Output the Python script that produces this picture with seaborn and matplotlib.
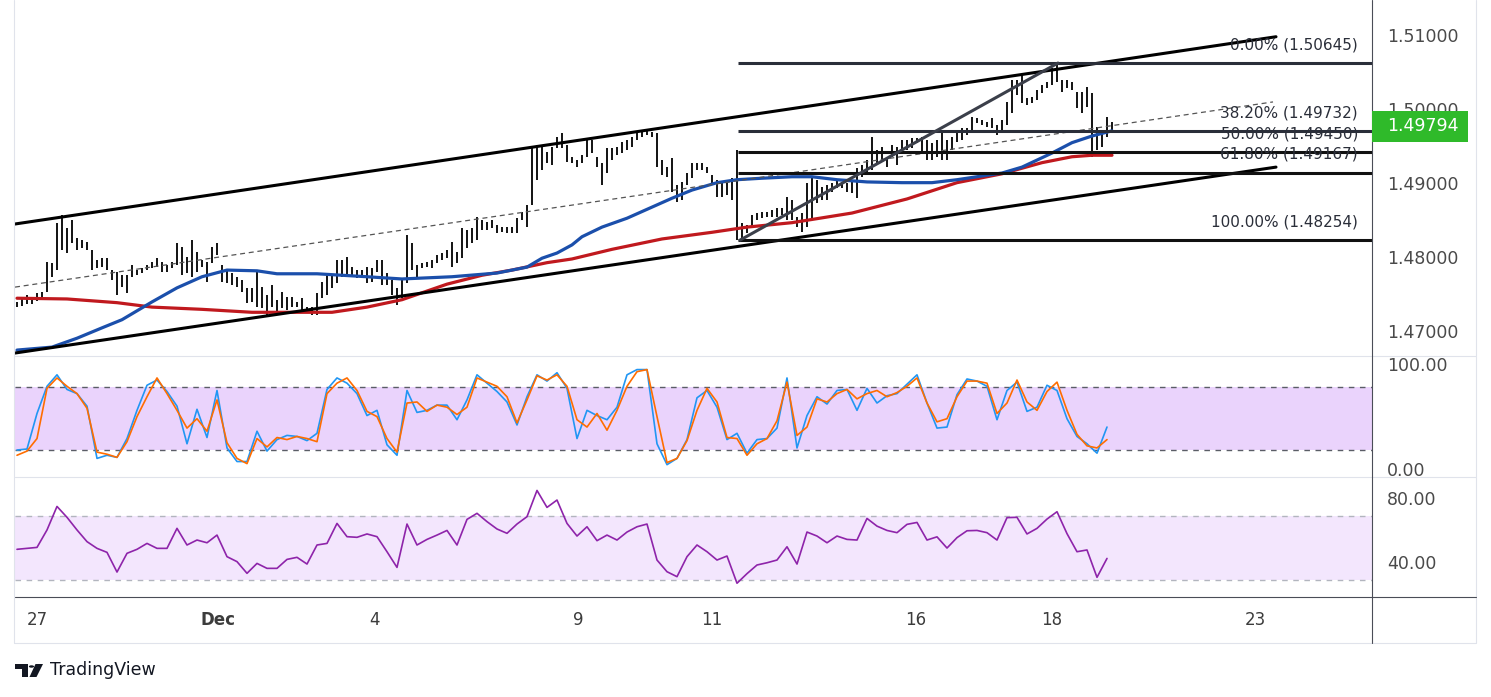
import numpy as np
import pandas as pd
import matplotlib
matplotlib.use("Agg")
import matplotlib.pyplot as plt
import seaborn as sns
from matplotlib.lines import Line2D
from matplotlib.patches import Rectangle, Polygon, Circle
from matplotlib.transforms import Bbox, TransformedBbox, blended_transform_factory

# price bars (high / low), one entry per bar step
bar_high = [
    1.4742, 1.4749, 1.4751, 1.4749, 1.4754, 1.4755, 1.4796, 1.4795, 1.4849, 1.4859,
    1.4842, 1.4853, 1.4828, 1.4826, 1.4823, 1.4812, 1.4799, 1.4801, 1.4801, 1.4785,
    1.4782, 1.4778, 1.4778, 1.4792, 1.4785, 1.4788, 1.4792, 1.4796, 1.4801, 1.4796,
    1.4792, 1.4796, 1.4822, 1.4816, 1.4803, 1.4826, 1.4809, 1.4799, 1.4796, 1.4816,
    1.4822, 1.4792, 1.4785, 1.4781, 1.4776, 1.4772, 1.4761, 1.4761, 1.4782, 1.4762,
    1.4751, 1.4765, 1.4745, 1.4755, 1.4749, 1.4749, 1.4742, 1.4747, 1.4735, 1.4735,
    1.4754, 1.4769, 1.4778, 1.4778, 1.4799, 1.4799, 1.4803, 1.4789, 1.4785, 1.4785,
    1.4789, 1.4788, 1.4799, 1.4799, 1.4781, 1.4772, 1.4761, 1.4772, 1.4832, 1.4822,
    1.4792, 1.4795, 1.4796, 1.4799, 1.4805, 1.4808, 1.4812, 1.4823, 1.4809, 1.4842,
    1.4839, 1.4842, 1.4857, 1.4853, 1.4850, 1.4853, 1.4846, 1.4843, 1.4843, 1.4843,
    1.4855, 1.4863, 1.4873, 1.4950, 1.4954, 1.4951, 1.4944, 1.4951, 1.4965, 1.4970,
    1.4954, 1.4938, 1.4934, 1.4940, 1.4961, 1.4961, 1.4938, 1.4930, 1.4950, 1.4950,
    1.4951, 1.4958, 1.4961, 1.4965, 1.4970, 1.4974, 1.4974, 1.4971, 1.4970, 1.4934,
    1.4924, 1.4936, 1.4900, 1.4904, 1.4916, 1.4930, 1.4930, 1.4930, 1.4924, 1.4913,
    1.4907, 1.4904, 1.4904, 1.4909, 1.4947, 1.4849, 1.4846, 1.4859, 1.4862, 1.4863,
    1.4863, 1.4866, 1.4869, 1.4869, 1.4884, 1.4880, 1.4857, 1.4862, 1.4903, 1.4911,
    1.4907, 1.4897, 1.4900, 1.4903, 1.4907, 1.4904, 1.4903, 1.4904, 1.4923, 1.4927,
    1.4934, 1.4965, 1.4947, 1.4951, 1.4938, 1.4954, 1.4951, 1.4961, 1.4961, 1.4963,
    1.4963, 1.4965, 1.4961, 1.4957, 1.4961, 1.4974, 1.4961, 1.4965, 1.4970, 1.4977,
    1.4977, 1.4992, 1.4990, 1.4988, 1.4985, 1.4990, 1.4981, 1.4988, 1.5012, 1.5042,
    1.5042, 1.5048, 1.5017, 1.5019, 1.5028, 1.5035, 1.5039, 1.5058, 1.50645, 1.5042,
    1.5042, 1.5039, 1.5025, 1.5025, 1.5032, 1.5024, 1.4978, 1.4970, 1.4992, 1.4985,
]
bar_low = [
    1.4735, 1.4736, 1.4739, 1.4739, 1.4743, 1.4745, 1.4755, 1.4776, 1.4785, 1.4812,
    1.4808, 1.4822, 1.4812, 1.4815, 1.4812, 1.4785, 1.4788, 1.4789, 1.4785, 1.4772,
    1.4751, 1.4762, 1.4754, 1.4776, 1.4778, 1.4781, 1.4785, 1.4788, 1.4789, 1.4782,
    1.4782, 1.4788, 1.4792, 1.4778, 1.4781, 1.4776, 1.4782, 1.4789, 1.4769, 1.4795,
    1.4805, 1.4769, 1.4768, 1.4765, 1.4762, 1.4755, 1.4741, 1.4742, 1.4735, 1.4734,
    1.4724, 1.4735, 1.4728, 1.4734, 1.4731, 1.4735, 1.4735, 1.4731, 1.4727, 1.4724,
    1.4724, 1.4747, 1.4751, 1.4761, 1.4768, 1.4776, 1.4776, 1.4776, 1.4774, 1.4776,
    1.4768, 1.4769, 1.4782, 1.4765, 1.4765, 1.4751, 1.4738, 1.4747, 1.4768, 1.4785,
    1.4776, 1.4788, 1.4789, 1.4788, 1.4795, 1.4799, 1.4801, 1.4789, 1.4795, 1.4801,
    1.4815, 1.4822, 1.4826, 1.4839, 1.4839, 1.4842, 1.4835, 1.4836, 1.4835, 1.4835,
    1.4835, 1.4853, 1.4843, 1.4873, 1.4907, 1.4920, 1.4930, 1.4927, 1.4950, 1.4950,
    1.4931, 1.4930, 1.4924, 1.4930, 1.4938, 1.4943, 1.4924, 1.4900, 1.4916, 1.4934,
    1.4940, 1.4943, 1.4947, 1.4951, 1.4961, 1.4965, 1.4967, 1.4965, 1.4924, 1.4913,
    1.4911, 1.4890, 1.4877, 1.4880, 1.4900, 1.4909, 1.4920, 1.4920, 1.4916, 1.4903,
    1.4884, 1.4884, 1.4886, 1.4880, 1.4825, 1.4826, 1.4835, 1.4842, 1.4853, 1.4855,
    1.4857, 1.4857, 1.4857, 1.4859, 1.4853, 1.4853, 1.4843, 1.4836, 1.4843, 1.4853,
    1.4876, 1.4880, 1.4880, 1.4890, 1.4896, 1.4896, 1.4890, 1.4889, 1.4882, 1.4911,
    1.4913, 1.4920, 1.4927, 1.4934, 1.4924, 1.4938, 1.4927, 1.4947, 1.4947, 1.4950,
    1.4957, 1.4943, 1.4934, 1.4934, 1.4938, 1.4934, 1.4934, 1.4947, 1.4958, 1.4961,
    1.4967, 1.4970, 1.4984, 1.4981, 1.4978, 1.4977, 1.4967, 1.4970, 1.4981, 1.4997,
    1.5021, 1.5011, 1.5008, 1.5011, 1.5015, 1.5024, 1.5031, 1.5035, 1.5039, 1.5025,
    1.5031, 1.5028, 1.5004, 1.4997, 1.5005, 1.4938, 1.4947, 1.4951, 1.4965, 1.4974,
]
last_price = 1.49794

# moving averages (bar index, value)
ma_blue_idx = [0, 7, 12, 17, 21, 27, 32, 37, 42, 48, 52, 60, 70, 77, 87, 96, 102, 105,
               108, 111, 113, 117, 122, 127, 131, 135, 140, 144, 149, 155, 159, 164,
               170, 177, 183, 188, 193, 197, 201, 207, 211, 215, 219]
ma_blue = [1.4677, 1.4681, 1.4693, 1.4707, 1.4718, 1.4742, 1.4761, 1.4776, 1.4785, 1.4784,
           1.4780, 1.4780, 1.4776, 1.4773, 1.4776, 1.4781, 1.4789, 1.4801, 1.4808, 1.4819,
           1.4830, 1.4843, 1.4855, 1.4870, 1.4882, 1.4893, 1.4903, 1.4907, 1.4909, 1.4911,
           1.4911, 1.4907, 1.4904, 1.4903, 1.4903, 1.4907, 1.4912, 1.4916, 1.4924, 1.4943,
           1.4957, 1.4966, 1.4973]
ma_red_idx = [0, 10, 20, 27, 37, 47, 57, 63, 70, 77, 86, 93, 99, 106, 111, 119, 129,
              139, 146, 155, 167, 178, 188, 197, 205, 211, 215, 219]
ma_red = [1.4747, 1.4746, 1.4741, 1.4735, 1.4732, 1.4728, 1.4728, 1.4728, 1.4735, 1.4745,
          1.4766, 1.4778, 1.4785, 1.4795, 1.4800, 1.4813, 1.4827, 1.4836, 1.4843, 1.4849,
          1.4862, 1.4881, 1.4903, 1.4915, 1.4930, 1.4938, 1.4940, 1.4940]

# oscillators, every second bar
stoch_k = [20, 21, 55, 81, 92, 78, 74, 62, 12, 15,
           13, 31, 58, 82, 87, 76, 62, 26, 59, 32,
           77, 22, 9, 9, 38, 19, 30, 34, 33, 29,
           36, 78, 89, 84, 74, 53, 58, 25, 15, 77,
           56, 58, 63, 63, 49, 68, 92, 84, 76, 66,
           44, 71, 92, 86, 94, 79, 31, 58, 53, 49,
           61, 92, 97, 97, 26, 6, 12, 30, 70, 77,
           61, 30, 36, 17, 30, 31, 41, 89, 22, 53,
           71, 64, 77, 78, 58, 79, 65, 72, 74, 83,
           92, 65, 41, 42, 73, 88, 86, 81, 49, 77,
           85, 57, 61, 82, 77, 50, 33, 26, 17, 42]
stoch_d = [15, 19, 31, 79, 89, 81, 74, 60, 18, 16,
           13, 28, 52, 71, 89, 74, 58, 41, 50, 38,
           68, 27, 12, 7, 31, 23, 32, 30, 33, 31,
           28, 74, 84, 89, 77, 57, 52, 31, 18, 65,
           66, 57, 63, 61, 54, 61, 89, 85, 81, 71,
           46, 68, 91, 87, 92, 81, 49, 42, 55, 39,
           58, 81, 95, 97, 52, 8, 12, 29, 58, 79,
           66, 32, 31, 15, 26, 31, 48, 85, 34, 42,
           69, 66, 74, 78, 69, 74, 77, 71, 75, 81,
           89, 65, 47, 50, 71, 86, 86, 84, 55, 65,
           87, 66, 58, 76, 85, 58, 35, 24, 22, 30]
rsi = [49.2, 49.8, 50.4, 61.3, 76.0, 69.2, 61.3, 54.0, 49.8, 47.3,
       35.0, 46.7, 49.2, 52.9, 49.8, 49.8, 62.3, 51.9, 55.0, 53.3,
       58.1, 44.6, 41.5, 34.2, 40.4, 37.3, 37.3, 42.9, 44.2, 40.0,
       51.9, 52.9, 65.4, 57.1, 56.7, 58.8, 57.1, 47.7, 37.9, 65.0,
       51.9, 55.4, 58.1, 61.0, 51.9, 67.9, 71.7, 66.5, 61.9, 59.2,
       65.0, 69.6, 86.0, 75.4, 80.0, 65.4, 57.5, 63.3, 54.6, 58.1,
       55.0, 60.0, 63.3, 65.0, 42.5, 35.2, 32.1, 44.6, 51.9, 47.7,
       42.5, 45.0, 28.0, 34.0, 39.4, 40.8, 42.5, 50.8, 40.0, 60.0,
       57.5, 53.3, 57.5, 55.4, 55.0, 68.5, 63.7, 61.0, 59.6, 64.8,
       66.0, 55.0, 57.0, 50.0, 56.5, 60.8, 61.0, 59.6, 55.0, 69.0,
       69.2, 58.8, 62.3, 68.1, 72.7, 59.0, 47.7, 48.8, 31.7, 43.5]

# drawings
fib_levels = [0.0, 38.2, 50.0, 61.8, 100.0]
fib_prices = [1.50645, 1.49732, 1.49450, 1.49167, 1.48254]
fib_start = 144.2
swing_low = (144.6, 1.48254)
swing_high = (208.2, 1.50645)
channel_upper = ([-0.4, 251.8], [1.48472, 1.51000])
channel_lower = ([-0.4, 251.8], [1.46730, 1.49240])
channel_mid = ([-0.4, 251.2], [1.47620, 1.50120])

day_ticks = [4, 40.2, 71.4, 112.2, 139, 179.8, 207, 247.6]
day_labels = ['27', 'Dec', '4', '9', '11', '16', '18', '23']
price_ticks = [1.47, 1.48, 1.49, 1.50, 1.51]
stoch_ticks = [0, 100]
rsi_ticks = [40, 80]

W, H = 1491, 697
L, R, RB = 15, 1372, 1476
XMAX = 271

sns.set_style('white')
plt.rcParams['font.family'] = ['DejaVu Sans']
fig = plt.figure(figsize=(W / 100, H / 100), dpi=100)
fig.patch.set_facecolor('white')


def panel(top, bottom):
    ax = fig.add_axes([L / W, 1 - bottom / H, (R - L) / W, (bottom - top) / H])
    ax.set_xlim(-0.4, XMAX)
    for s in ax.spines.values():
        s.set_visible(False)
    ax.set_xticks([])
    ax.set_yticks([])
    ax.set_facecolor('none')
    return ax


def fig_line(x0, y0, x1, y1, color, lw=0.8):
    fig.add_artist(Line2D([x0 / W, x1 / W], [1 - y0 / H, 1 - y1 / H], color=color,
                          lw=lw, transform=fig.transFigure))


def right_labels(ax, ticks, fmt, top, bottom):
    tr = blended_transform_factory(fig.transFigure, ax.transData)
    clip = TransformedBbox(Bbox.from_extents(R / W, 1 - bottom / H, RB / W, 1 - top / H),
                           fig.transFigure)
    for t in ticks:
        txt = fig.text(1387 / W, t, fmt.format(t), transform=tr, ha='left', va='center',
                       fontsize=12.5, color='#4a4a4a', zorder=3)
        txt.set_clip_box(clip)
        txt.set_clip_on(True)


ax_p = panel(0, 356)
ax_s = panel(356, 477)
ax_r = panel(477, 597)

# ---- price panel ----
bars = pd.DataFrame({'i': np.arange(len(bar_high)), 'high': bar_high, 'low': bar_low})
ax_p.vlines(bars['i'], bars['low'], bars['high'], color='black', lw=1.3, zorder=3)
sns.lineplot(x=ma_red_idx, y=ma_red, ax=ax_p, color='#c0191e', lw=2.3, zorder=4, legend=False)
sns.lineplot(x=ma_blue_idx, y=ma_blue, ax=ax_p, color='#1b4fab', lw=2.3, zorder=4, legend=False)

ax_p.plot(*channel_upper, color='black', lw=2.2, zorder=5)
ax_p.plot(*channel_lower, color='black', lw=2.2, zorder=5)
ax_p.plot(*channel_mid, color='#555555', lw=0.9, dashes=(4, 3), zorder=5)

fib_colors = ['#2a2e39', '#2a2e39', '#111111', '#111111', '#111111']
ax_p.hlines(fib_prices, fib_start, XMAX, colors=fib_colors, lw=2.2, zorder=5)
ax_p.plot([swing_low[0], swing_high[0]], [swing_low[1], swing_high[1]],
          color='#3b3f4a', lw=2.2, zorder=5)
for lvl, p in zip(fib_levels, fib_prices):
    ax_p.annotate(f'{lvl:.2f}% ({p:.5f})', xy=(268.2, p), xytext=(0, 13),
                  textcoords='offset points', ha='right', va='center', fontsize=11,
                  color='#2a2e39', zorder=6)
ax_p.set_ylim(1.46690, 1.51496)
right_labels(ax_p, price_ticks, '{:.5f}', 0, 356)

tr_p = blended_transform_factory(fig.transFigure, ax_p.transData)
fig.add_artist(Rectangle((R / W, last_price - 0.0021), 96 / W, 0.0042, transform=tr_p,
                         facecolor='#2fba2a', edgecolor='none', zorder=5))
fig.text(1387 / W, last_price, f'{last_price:.5f}', transform=tr_p, ha='left', va='center',
         fontsize=12.5, color='white', zorder=6)

# ---- stochastic panel ----
osc_idx = np.arange(0, 2 * len(stoch_k), 2)
ax_s.set_ylim(-5.8, 110)
ax_s.axhspan(20, 80, color='#ead3fc', lw=0, zorder=0)
for lvl in (20, 80):
    ax_s.axhline(lvl, color='#5a5d66', lw=1, dashes=(4, 4), zorder=1)
sns.lineplot(x=osc_idx, y=stoch_k, ax=ax_s, color='#2196f3', lw=1.2, legend=False)
sns.lineplot(x=osc_idx, y=stoch_d, ax=ax_s, color='#ff6d00', lw=1.2, legend=False)
right_labels(ax_s, stoch_ticks, '{:.2f}', 356, 477)

# ---- RSI panel ----
ax_r.set_ylim(19.4, 94.4)
ax_r.axhspan(30, 70, color='#f3e6fd', lw=0, zorder=0)
for lvl in (30, 70):
    ax_r.axhline(lvl, color='#b2b5be', lw=1, dashes=(4, 4), zorder=1)
sns.lineplot(x=osc_idx, y=rsi, ax=ax_r, color='#8e24aa', lw=1.2, legend=False)
right_labels(ax_r, rsi_ticks, '{:.2f}', 477, 597)

ax_r.set_xticks(day_ticks)
ax_r.set_xticklabels(day_labels)
ax_r.tick_params(axis='x', length=0, pad=10, labelsize=12, labelcolor='#3c3c3c')
ax_r.get_xticklabels()[1].set_fontweight('bold')

# ---- frame ----
fig_line(L, 356, RB, 356, '#e0e3eb')
fig_line(L, 477, RB, 477, '#e0e3eb')
fig_line(14, 643, RB, 643, '#e0e3eb')
fig_line(14, 0, 14, 643, '#e0e3eb')
fig_line(RB, 0, RB, 643, '#e0e3eb')
fig_line(L, 597, RB, 597, '#4a4d57')
fig_line(R, 0, R, 643, '#4a4d57')

# TradingView mark
def fp(x, y):
    return (x / W, 1 - y / H)

logo = '#131722'
fig.add_artist(Polygon([fp(15, 664), fp(28, 664), fp(28, 677), fp(21.5, 677),
                        fp(21.5, 669), fp(15, 669)], closed=True, facecolor=logo,
                       edgecolor='none', transform=fig.transFigure))
fig.add_artist(Polygon([fp(35.5, 664), fp(43, 664), fp(36.5, 677), fp(29.5, 677)],
                       closed=True, facecolor=logo, edgecolor='none',
                       transform=fig.transFigure))
fig.add_artist(Circle(fp(31.5, 666.5), 2.6 / W, facecolor=logo, edgecolor='none',
                      transform=fig.transFigure))
fig.text(50 / W, 1 - 670 / H, 'TradingView', ha='left', va='center', fontsize=12.5,
         color=logo)

fig.savefig('out.png', dpi=100)
